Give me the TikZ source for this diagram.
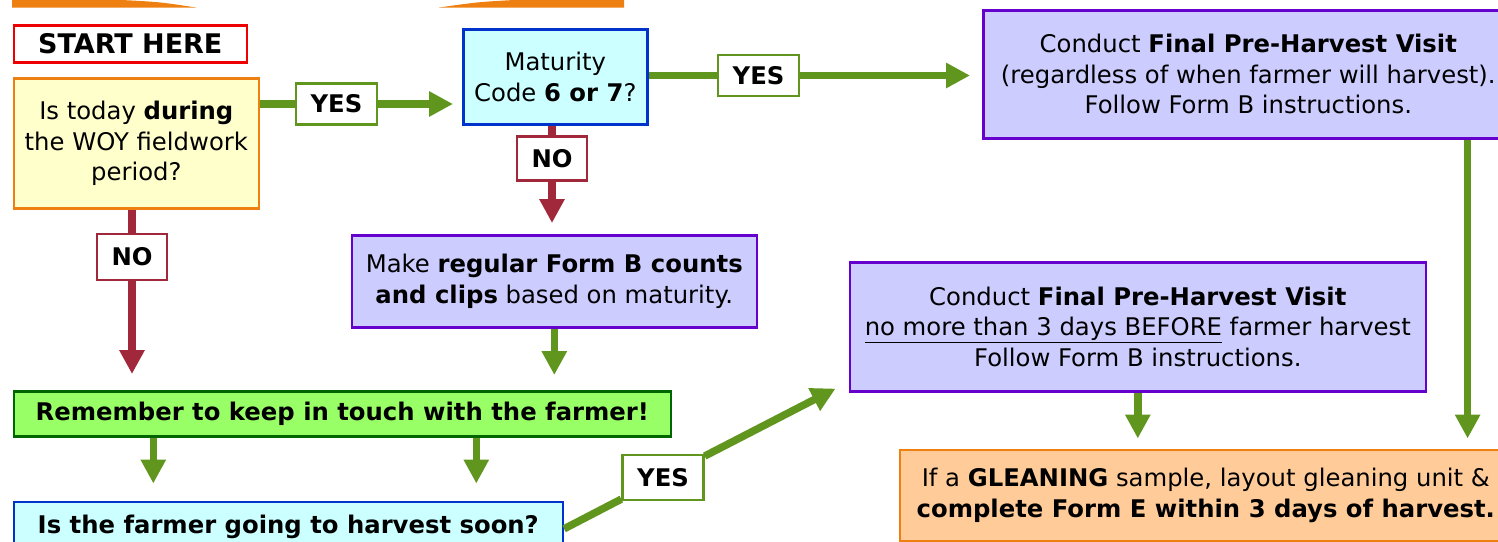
\documentclass[tikz,border=0pt]{standalone}
\usepackage{fontspec}
\setmainfont{DejaVu Sans}
\usetikzlibrary{arrows.meta}
\definecolor{agreen}{RGB}{96,150,30}
\definecolor{ared}{RGB}{160,40,58}
\definecolor{bblue}{RGB}{0,51,204}
\definecolor{fcyan}{RGB}{204,255,255}
\definecolor{bpurple}{RGB}{102,0,204}
\definecolor{flav}{RGB}{204,204,255}
\definecolor{fyellow}{RGB}{255,255,204}
\definecolor{borange}{RGB}{238,128,17}
\definecolor{fgreen}{RGB}{153,255,102}
\definecolor{bgreen}{RGB}{0,102,0}
\definecolor{forange}{RGB}{255,204,153}
\definecolor{bred}{RGB}{238,0,0}
\newcommand\diagfont{\fontsize{24.3}{30.5}\selectfont}
\newcommand\startfont{\fontsize{27}{30}\selectfont}
\begin{document}
\begin{tikzpicture}[x=1pt,y=-1pt,
  box/.style={draw, line width=2.6pt, inner sep=0pt, align=center, font=\diagfont, anchor=north west},
  redbox/.style={box, draw=bred, fill=white, font=\startfont},
  ybox/.style={box, draw=borange, fill=fyellow},
  cbox/.style={box, draw=bblue, fill=fcyan},
  pbox/.style={box, draw=bpurple, fill=flav},
  gbox/.style={box, draw=bgreen, fill=fgreen},
  obox/.style={box, draw=borange, fill=forange},
  lab/.style={draw, line width=2.4pt, fill=white, inner sep=0pt, font=\diagfont\bfseries, minimum width=81, minimum height=41},
  yeslab/.style={lab, draw=agreen},
  nolab/.style={lab, draw=ared, minimum width=70, minimum height=44},
  gline/.style={draw=agreen, line width=7.5pt},
  garrow/.style={gline, -{Triangle[width=24pt,length=24pt]}},
  rline/.style={draw=ared, line width=7.5pt},
  rarrow/.style={rline, -{Triangle[width=24pt,length=24pt]}}
]
\useasboundingbox (0,0) rectangle (1498,541);
\clip (0,0) rectangle (1498,541);

% top orange bar
\fill[borange] (12,0) -- (122,0) .. controls (160,2) .. (196,7.5) -- (12,7.5) -- cycle;
\fill[borange] (439,7.5) .. controls (478,2) .. (514,0) -- (624,0) -- (624,7.5) -- cycle;

% boxes
\node[redbox, minimum width=233, minimum height=37] (start) at (12.5,24) {\textbf{START HERE}};
\node[ybox, minimum width=245, minimum height=130] (q1) at (12.5,77) {Is today \textbf{during}\\the WOY fieldwork\\period?};
\node[cbox, minimum width=184, minimum height=95] (mat) at (462,28) {Maturity\\Code \textbf{6 or 7}?};
\node[pbox, minimum width=530, minimum height=128] (fp1) at (982,9) {Conduct \textbf{Final Pre-Harvest Visit}\\(regardless of when farmer will harvest).\\Follow Form B instructions.};
\node[pbox, minimum width=405, minimum height=92] (mk) at (350.5,234) {Make \textbf{regular Form B counts}\\\textbf{and clips} based on maturity.};
\node[pbox, minimum width=576, minimum height=129] (fp2) at (848.5,261) {Conduct \textbf{Final Pre-Harvest Visit}\\\underline{no more than 3 days BEFORE} farmer harvest\\Follow Form B instructions.};
\node[gbox, minimum width=657, minimum height=45] (rem) at (12.5,390) {\textbf{Remember to keep in touch with the farmer!}};
\node[cbox, minimum width=549, minimum height=50] (harv) at (12.5,500.5) {\textbf{Is the farmer going to harvest soon?}};
\node[obox, minimum width=612, minimum height=91] (gl) at (898.5,448.5) {If a \textbf{GLEANING} sample, layout gleaning unit \&\\\textbf{complete Form E within 3 days of harvest.}};

% labels
\node[yeslab] (yes1) at (336.5,104) {YES};
\node[yeslab] (yes2) at (758.5,75.5) {YES};
\node[yeslab, minimum height=45] (yes3) at (663,477.5) {YES};
\node[nolab, minimum height=46] (no1) at (132,257) {NO};
\node[nolab] (no2) at (552,158.5) {NO};

% connectors
\draw[gline] (q1.east |- yes1) -- (yes1.west);
\draw[garrow, shorten >=9pt] (yes1.east) -- (mat.west |- yes1);
\draw[gline] (mat.east |- yes2) -- (yes2.west);
\draw[garrow, shorten >=12pt] (yes2.east) -- (fp1.west |- yes2);
\draw[rline] (mat.south -| no2) -- (no2.north);
\draw[rarrow, shorten >=11pt] (no2.south) -- (no2 |- mk.north);
\draw[rline] (q1.south -| no1) -- (no1.north);
\draw[rarrow, shorten >=16pt] (no1.south) -- (no1 |- rem.north);
\draw[garrow, shorten >=15pt] (mk.south) -- (mk.south |- rem.north);
\draw[garrow, shorten >=17pt] ([xshift=-189pt]rem.south) -- ([xshift=-189pt]rem.south |- harv.north);
\draw[garrow, shorten >=17pt] ([xshift=134pt]rem.south) -- ([xshift=134pt]rem.south |- harv.north);
\draw[gline] ([yshift=-2pt]harv.east) -- (yes3);
\draw[garrow] (yes3) -- ([xshift=-13pt,yshift=4pt]fp2.south west);
\draw[garrow, shorten >=10pt] (fp2.south) -- (fp2.south |- gl.north);
\draw[garrow, shorten >=10pt] ([xshift=-47pt]fp1.south east) -- ([xshift=-47pt]fp1.south east |- gl.north);
\end{tikzpicture}
\end{document}
